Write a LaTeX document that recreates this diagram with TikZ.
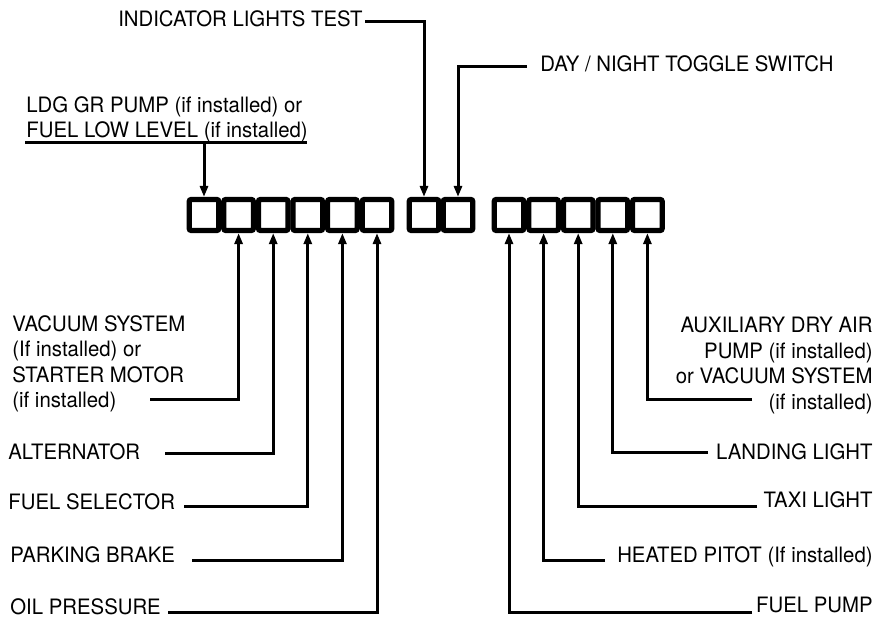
\documentclass[tikz,border=0pt]{standalone}
\usepackage{fontspec}
\setmainfont{TeX Gyre Heros}[FakeStretch=0.96]
\usetikzlibrary{arrows.meta}

\begin{document}
\begin{tikzpicture}[x=0.5pt,y=-0.5pt,
	lamp/.style={draw,line width=2.6pt,rounded corners=1pt,minimum width=14.8pt,minimum height=15.5pt,inner sep=0pt},
	lbl/.style={inner sep=0pt,font=\fontsize{10.6}{12.7}\selectfont},
	wire/.style={line width=1.5pt,-{Triangle[width=4pt,length=5.5pt]}}]
	\useasboundingbox (0,0) rectangle (885,619);
	% lamp panel
	\node at (204,215) [lamp] (b1) {};
	\node at (238.6,215) [lamp] (b2) {};
	\node at (273.2,215) [lamp] (b3) {};
	\node at (307.8,215) [lamp] (b4) {};
	\node at (342.4,215) [lamp] (b5) {};
	\node at (377,215) [lamp] (b6) {};
	\node at (424,215) [lamp] (b7) {};
	\node at (458,215) [lamp] (b8) {};
	\node at (509,215) [lamp] (b9) {};
	\node at (543.6,215) [lamp] (b10) {};
	\node at (578.2,215) [lamp] (b11) {};
	\node at (612.8,215) [lamp] (b12) {};
	\node at (647.4,215) [lamp] (b13) {};
	% labels above
	\node at (363,27) [lbl,anchor=base east] (ilt) {INDICATOR LIGHTS TEST};
	\node at (540,72) [lbl,anchor=base west] (day) {DAY / NIGHT TOGGLE SWITCH};
	\node at (26,96) [lbl,anchor=north west,align=left] (ldg) {LDG GR PUMP (if installed) or\\FUEL LOW LEVEL (if installed)};
	% labels left
	\node at (12,315) [lbl,anchor=north west,align=left] (vac) {VACUUM SYSTEM\\(If installed) or\\STARTER MOTOR\\(if installed)};
	\node at (8,460) [lbl,anchor=base west] (alt) {ALTERNATOR};
	\node at (8,510) [lbl,anchor=base west] (fsel) {FUEL SELECTOR};
	\node at (10,563) [lbl,anchor=base west] (pbrk) {PARKING BRAKE};
	\node at (10,615) [lbl,anchor=base west] (oil) {OIL PRESSURE};
	% labels right
	\node at (873,317) [lbl,anchor=north east,align=right] (aux) {AUXILIARY DRY AIR\\PUMP (if installed)\\or VACUUM SYSTEM\\(if installed)};
	\node at (873,460) [lbl,anchor=base east] (ldl) {LANDING LIGHT};
	\node at (873,508) [lbl,anchor=base east] (taxi) {TAXI LIGHT};
	\node at (873,563) [lbl,anchor=base east] (pitot) {HEATED PITOT (If installed)};
	\node at (873,613) [lbl,anchor=base east] (fpump) {FUEL PUMP};
	% wire ends
	\coordinate (iltS) at (365,22);
	\coordinate (dayS) at (527,67);
	\coordinate (ldgA) at (25,143);
	\coordinate (ldgB) at (307,143);
	\coordinate (ldgS) at (204,143);
	\coordinate (vacS) at (150,400);
	\coordinate (altS) at (165,454);
	\coordinate (fselS) at (184,507);
	\coordinate (pbrkS) at (192,561);
	\coordinate (oilS) at (168,613);
	\coordinate (auxS) at (752,400);
	\coordinate (ldlS) at (708,453);
	\coordinate (taxiS) at (757,507);
	\coordinate (pitotS) at (605,561);
	\coordinate (fpumpS) at (752,613);
	\draw [line width=1.5pt] (ldgA) -- (ldgB);
	\draw [wire] (ldgS) -- (b1.north);
	\draw [wire] (iltS) -| (b7.north);
	\draw [wire] (dayS) -| (b8.north);
	\draw [wire] (vacS) -| (b2.south);
	\draw [wire] (altS) -| (b3.south);
	\draw [wire] (fselS) -| (b4.south);
	\draw [wire] (pbrkS) -| (b5.south);
	\draw [wire] (oilS) -| (b6.south);
	\draw [wire] (fpumpS) -| (b9.south);
	\draw [wire] (pitotS) -| (b10.south);
	\draw [wire] (taxiS) -| (b11.south);
	\draw [wire] (ldlS) -| (b12.south);
	\draw [wire] (auxS) -| (b13.south);
\end{tikzpicture}
\end{document}
